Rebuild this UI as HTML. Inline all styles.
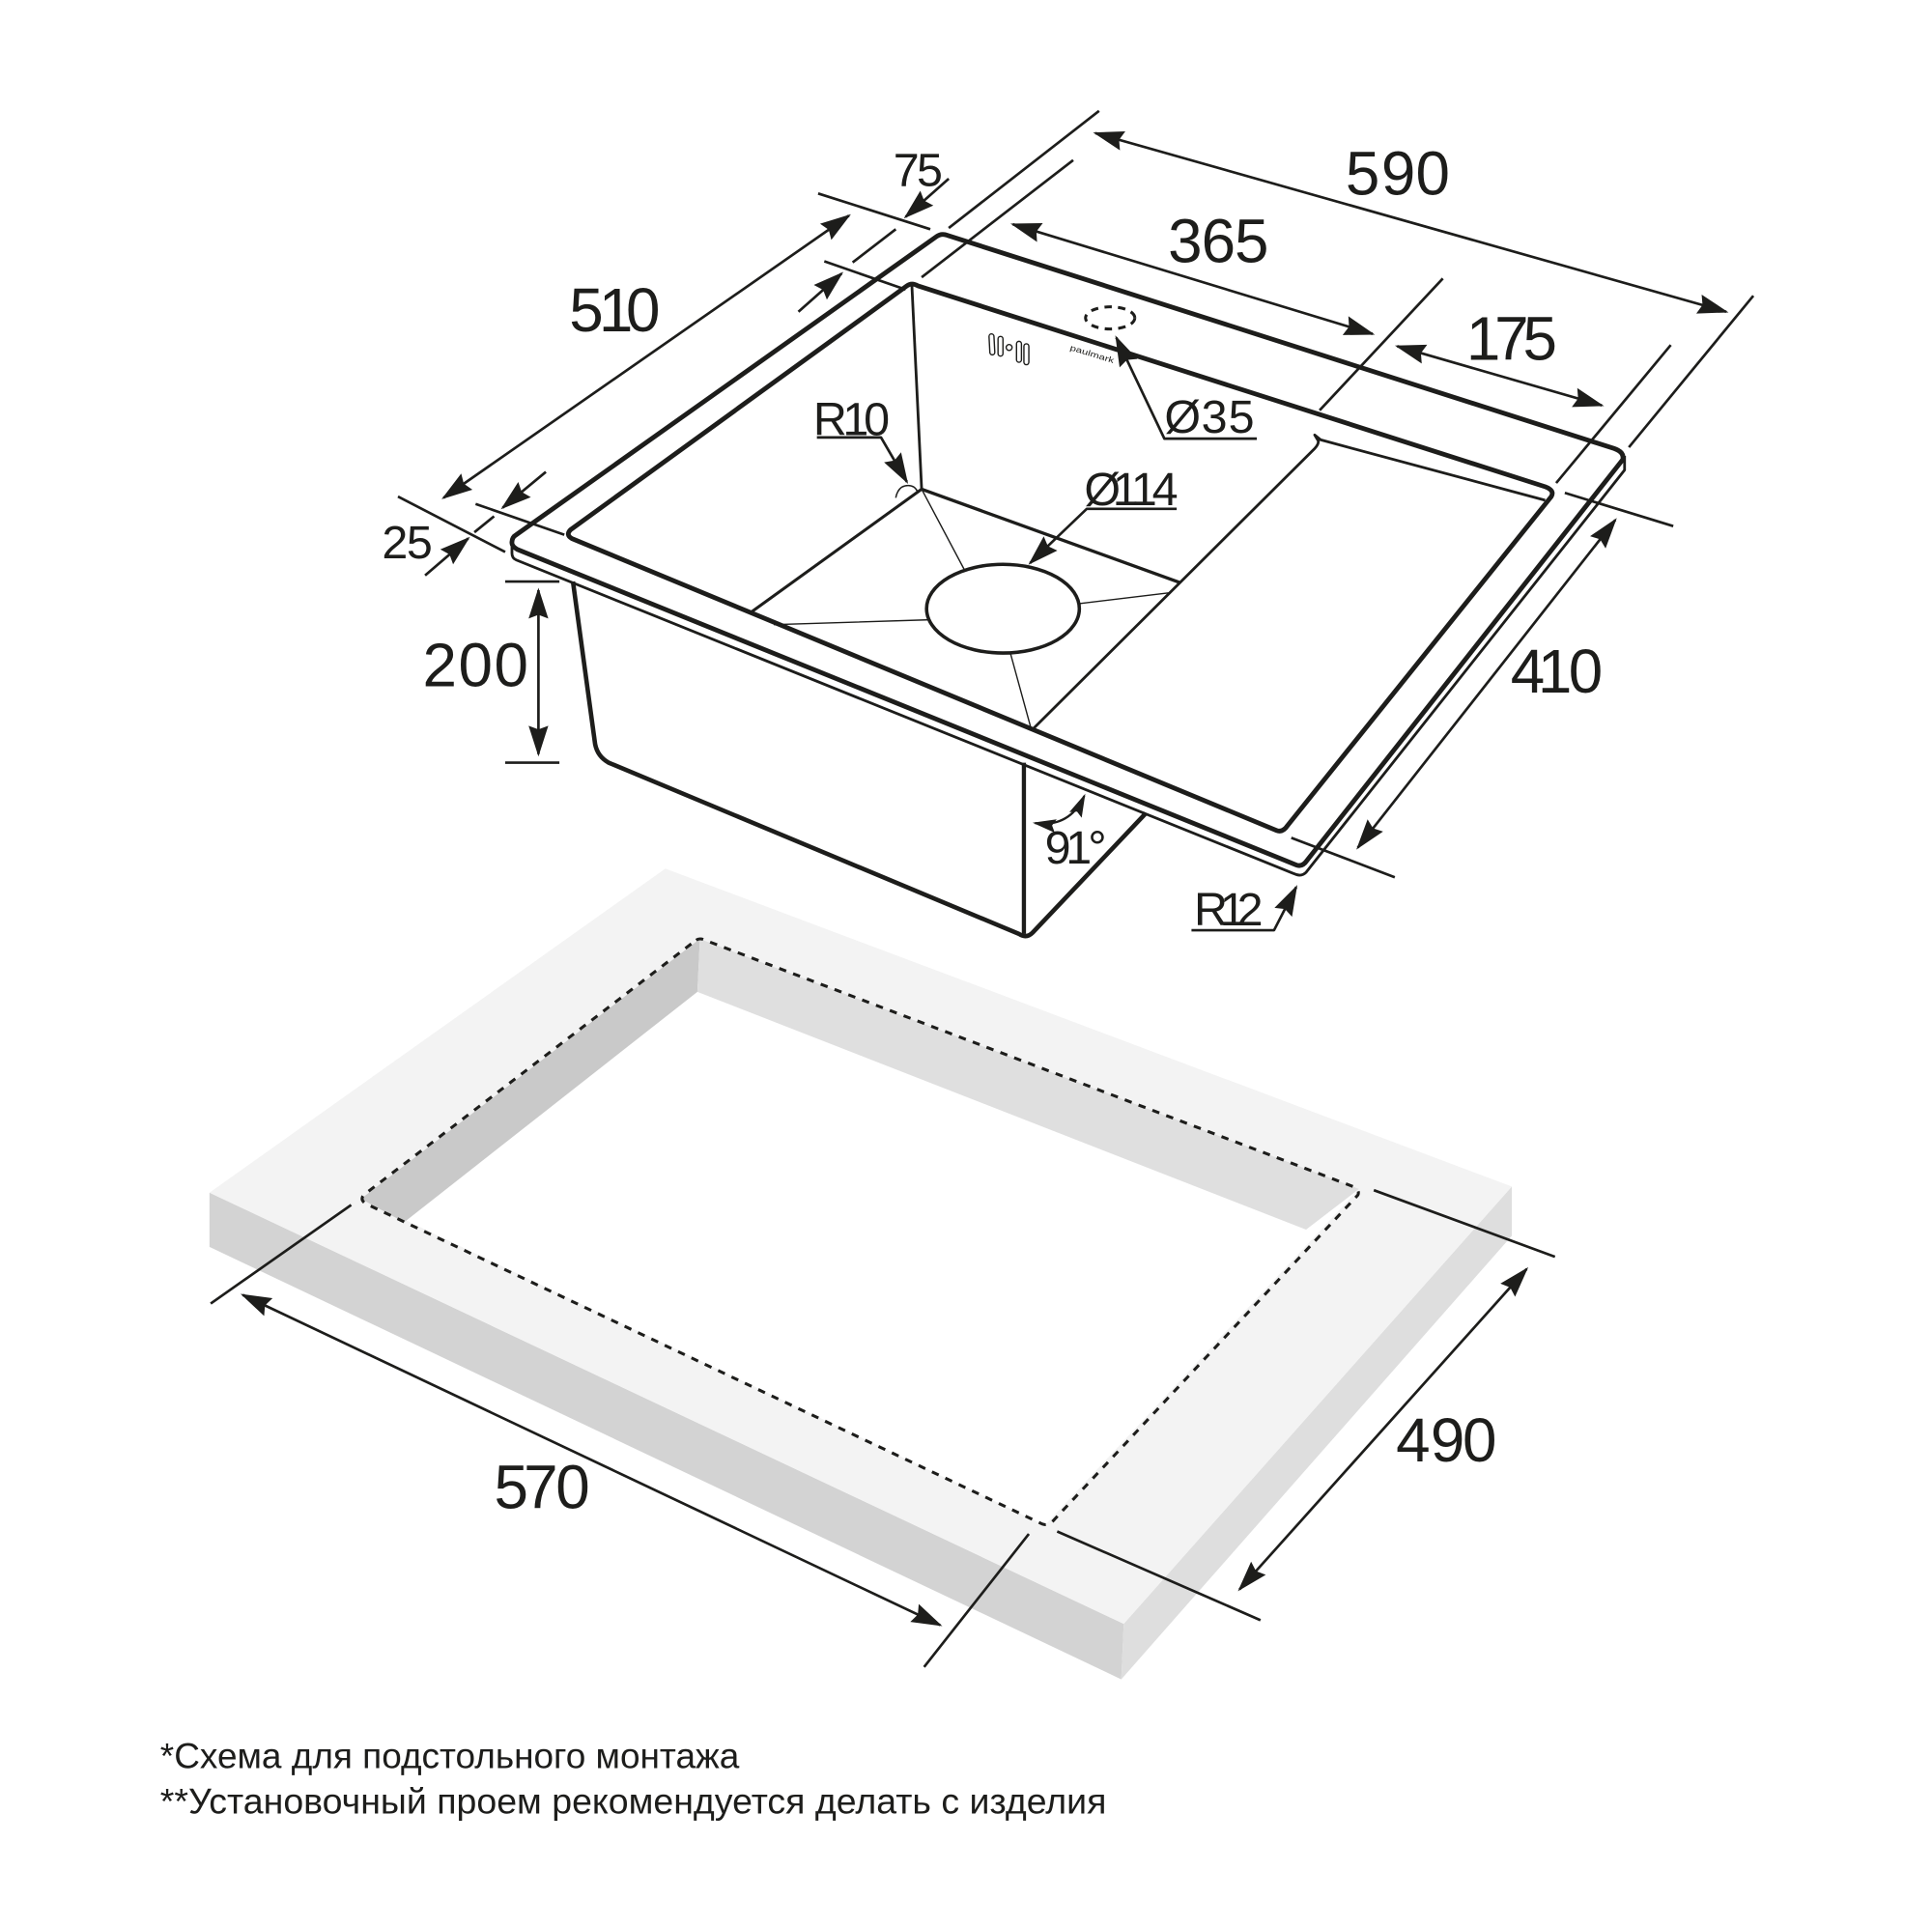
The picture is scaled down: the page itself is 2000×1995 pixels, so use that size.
<!DOCTYPE html>
<html><head><meta charset="utf-8"><style>
html,body{margin:0;padding:0;background:#fff}
svg{display:block}
text{font-family:"Liberation Sans",sans-serif;fill:#1d1d1b}
</style></head><body>
<svg xmlns="http://www.w3.org/2000/svg" width="2000" height="1995" viewBox="0 0 1568 1564">
<defs>
<marker id="a" markerUnits="userSpaceOnUse" markerWidth="28" markerHeight="18" refX="24" refY="9" orient="auto-start-reverse" viewBox="0 0 28 18">
<path d="M26,9 L1,1 L4,9 L1,17 Z" fill="#1d1d1b"/>
</marker>
<marker id="b" markerUnits="userSpaceOnUse" markerWidth="20" markerHeight="12" refX="17" refY="6" orient="auto-start-reverse" viewBox="0 0 20 12">
<path d="M19,6 L0,0.5 L3,6 L0,11.5 Z" fill="#1d1d1b"/>
</marker>
</defs>

<!-- cutout slab -->
<polygon points="170,968 170,1012 910,1363 912,1318" fill="#d3d3d3"/>
<polygon points="912,1318 1227,963 1227,1003 910,1363" fill="#dedede"/>
<polygon points="540,705 1227,963 912,1318 170,968" fill="#f3f3f3"/>
<polygon points="568,762 1103,965 848,1238 293,973" fill="#fff"/>
<polygon points="568,762 566,805 328,992 293,973" fill="#c9c9c9"/>
<polygon points="568,762 1103,965 1060,998 566,805" fill="#dfdfdf"/>
<path d="M565,763 Q568,761 572,763 L1098,963 Q1104,966 1102,970 L856,1233 Q851,1239 846,1237 L297,977 Q292,974 295,970 Z" fill="none" stroke="#1d1d1b" stroke-width="2.4" stroke-dasharray="6 6"/>

<g fill="none" stroke="#1d1d1b" stroke-linecap="butt" stroke-linejoin="round">
<!-- sink rim -->
<path d="M420,446 Q415,443 415.5,440 Q415.5,436 419,434 L760,192 Q764,189 769,191 L1310,364 Q1318.5,367 1317,373 L1061,698 Q1057,704 1052,702 Z" stroke-width="3.8"/>
<path d="M415.5,441 L415.5,449 Q415.5,453 419,454.5 L1050,709 Q1056,712 1060,708 L1318.5,381.5 L1318.5,370" stroke-width="2.2"/>
<!-- basin top -->
<path d="M464,437 Q459,434 463,430 L736,232 Q740,229 745,232 L1254,395 Q1262,398 1259,403 L1045,670 Q1041,676 1036,674 Z" stroke-width="3.8"/>
<path d="M1254,406 L1072,357 L1067,353 L1070,358 Q1070,361 1067,364 L838,592" stroke-width="2.2"/>
<!-- bowl -->
<path d="M740,230 L748,397" stroke-width="2.2"/>
<path d="M748,397 L958,473" stroke-width="2.6"/>
<path d="M748,397 L608,498" stroke-width="2.4"/>
<ellipse cx="814" cy="494" rx="62" ry="36" fill="#fff" stroke-width="2.8"/>
<path d="M748,397 L783,463 M755,503 L628,507 M875,490 L950,481 M820,530 L837,592" stroke-width="1.1"/>
<path d="M727,404 Q729,394 737,394 Q743,394 745,400" stroke-width="1.2"/>
<!-- body -->
<path d="M465,472 L483,604 Q485,614 494,619 L827,758 Q833,762 838,757 L930,660" stroke-width="3.6"/>
<path d="M831,619 L831,758" stroke-width="3.4"/>

<!-- overflow and tap hole -->
<g stroke-width="1.1">
<rect x="803" y="271" width="4" height="17" rx="2" transform="rotate(-3 805 279)"/>
<rect x="810" y="273" width="4" height="16" rx="2"/>
<circle cx="819" cy="282" r="2.4"/>
<rect x="825" y="277" width="4" height="17" rx="2"/>
<rect x="831" y="279" width="4" height="17" rx="2"/>
</g>
<ellipse cx="901" cy="258" rx="20" ry="9" stroke-width="2.4" stroke-dasharray="6 5"/>

<!-- extension lines -->
<path d="M892,90 L770,185 M1423,240 L1322,363 M871,130 L748,225 M1171,226 L1071,333 M1356,280 L1263,392 M664,157 L755,186 M323,403 L410,448 M669,212 L735,235 M727,186 L692,213 M386,409 L458,434 M401,419 L385,432 M1270,400 L1358,427 M1048,680 L1132,712 M410,472 L454,472 M410,619 L454,619 M285,978 L171,1058 M835,1245 L750,1353 M1115,966 L1262,1020 M858,1243 L1023,1315" stroke-width="2.1"/>

<!-- dimension arrows -->
<g stroke-width="2.1">
<line x1="889" y1="108" x2="1401" y2="253" marker-start="url(#a)" marker-end="url(#a)"/>
<line x1="822" y1="182" x2="1114" y2="271" marker-start="url(#a)" marker-end="url(#a)"/>
<line x1="1134" y1="281" x2="1300" y2="329" marker-start="url(#a)" marker-end="url(#a)"/>
<line x1="689" y1="175" x2="360" y2="404" marker-start="url(#a)" marker-end="url(#a)"/>
<line x1="770" y1="145" x2="735" y2="176" marker-end="url(#a)"/>
<line x1="648" y1="253" x2="683" y2="222" marker-end="url(#a)"/>
<line x1="443" y1="383" x2="408" y2="412" marker-end="url(#a)"/>
<line x1="345" y1="467" x2="380" y2="437" marker-end="url(#a)"/>
<line x1="437" y1="479" x2="437" y2="612" marker-start="url(#a)" marker-end="url(#a)"/>
<line x1="1311" y1="422" x2="1102" y2="688" marker-start="url(#a)" marker-end="url(#a)"/>
<line x1="197" y1="1051" x2="763" y2="1319" marker-start="url(#a)" marker-end="url(#a)"/>
<line x1="1239" y1="1030" x2="1006" y2="1290" marker-start="url(#a)" marker-end="url(#a)"/>
<!-- leaders -->
<polyline points="663,355 715,355 736,391" marker-end="url(#a)"/>
<polyline points="955,413 882,413 836,457" marker-end="url(#a)"/>
<polyline points="1020,356 945,356 906,274" marker-end="url(#a)"/>
<polyline points="967,755 1034,755 1052,720" marker-end="url(#a)"/>
<path d="M840,668 Q868,672 880,646" marker-start="url(#b)" marker-end="url(#b)" stroke-width="1.8"/>
</g>
</g>

<text transform="translate(868,284) rotate(17)" font-size="6.5" textLength="37" lengthAdjust="spacingAndGlyphs">paulmark</text>

<g font-size="50">
<text x="1092 1121 1149" y="158">590</text>
<text x="948 975 1002" y="213">365</text>
<text x="1190 1213 1236" y="292">175</text>
<text x="462 486 508" y="269">510</text>
<text x="343 372 401" y="557">200</text>
<text x="1226 1248 1273" y="562">410</text>
<text x="401 425 451" y="1224">570</text>
<text x="1133 1161 1187" y="1186">490</text>
</g>
<g font-size="38">
<text x="725 744" y="151">75</text>
<text x="310 330" y="453">25</text>
<text x="660 684 701" y="353">R10</text>
<text x="880 903 918 935" y="410">Ø114</text>
<text x="945 975 997" y="351">Ø35</text>
<text x="848 865 883" y="701">91°</text>
<text x="969 990 1004" y="751">R12</text>
</g>
<g font-size="29">
<text x="130" y="1435" textLength="470" lengthAdjust="spacingAndGlyphs">*Схема для подстольного монтажа</text>
<text x="130" y="1472" textLength="768" lengthAdjust="spacingAndGlyphs">**Установочный проем рекомендуется делать с изделия</text>
</g>
</svg>
</body></html>
